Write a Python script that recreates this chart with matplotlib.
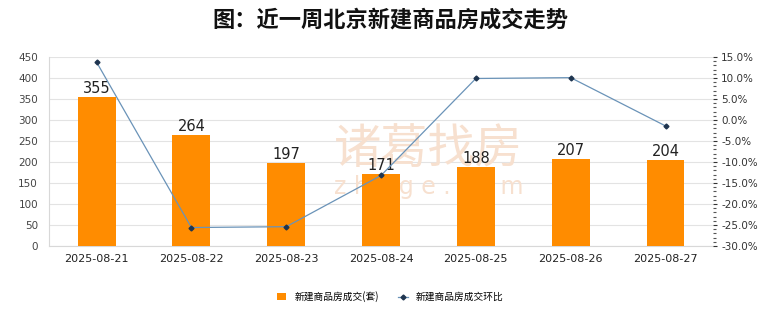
import matplotlib
matplotlib.use('Agg')
import matplotlib.pyplot as plt
from matplotlib.ticker import MultipleLocator, FuncFormatter

plt.rcParams['font.family'] = ['Noto Sans CJK SC', 'DejaVu Sans']

dates = ['2025-08-21', '2025-08-22', '2025-08-23', '2025-08-24',
         '2025-08-25', '2025-08-26', '2025-08-27']
deals = [355, 264, 197, 171, 188, 207, 204]
ratio = [13.8, -25.6, -25.4, -13.2, 9.9, 10.1, -1.4]

bar_color = '#FF8C00'
line_color = '#6A93B8'

fig = plt.figure(figsize=(7.8, 3.28), dpi=100)
ax = fig.add_axes([0.063, 0.25, 0.851, 0.576])
ax2 = ax.twinx()

x = list(range(len(dates)))
ax.bar(x, deals, width=0.4, color=bar_color, zorder=3, label='新建商品房成交(套)')
for xi, v in zip(x, deals):
    ax.text(xi, v + 3, str(v), ha='center', va='bottom', fontsize=10.5,
            family='DejaVu Sans', color='#222222', zorder=5)

ax.set_xlim(-0.5, len(dates) - 0.5)
ax.set_ylim(0, 450)
ax.yaxis.set_major_locator(MultipleLocator(50))
ax.grid(axis='y', color='#E3E3E3', linewidth=0.8, zorder=0)
ax.set_axisbelow(True)
ax.set_xticks(x)
ax.set_xticklabels(dates, family='DejaVu Sans', fontsize=8, color='#222222')
ax.tick_params(axis='y', length=0, labelsize=7.5, colors='#444444', pad=8)
ax.tick_params(axis='x', length=0, pad=6)
for lbl in ax.get_yticklabels():
    lbl.set_family('DejaVu Sans')
for s in ['top', 'right']:
    ax.spines[s].set_visible(False)
ax.spines['left'].set_color('#D8D8D8')
ax.spines['bottom'].set_color('#D8D8D8')

# watermark, behind the bars
ax.text(3.5, 229, '诸葛找房', ha='center', va='center', fontsize=34,
        color='#F7E0CF', zorder=1)
ax.text(3.5, 140, 'z h u g e . c o m', ha='center', va='center', fontsize=17,
        family='DejaVu Sans', color='#F7E0CF', zorder=1)

ax2.plot(x, ratio, color=line_color, linewidth=0.9, marker='D', markersize=2.5,
         markerfacecolor='#1F3550', markeredgecolor='#1F3550', zorder=4,
         label='新建商品房成交环比')
ax2.set_ylim(-30, 15)
ax2.yaxis.set_major_locator(MultipleLocator(5))
ax2.yaxis.set_minor_locator(MultipleLocator(1))
ax2.yaxis.set_major_formatter(FuncFormatter(lambda v, p: f'{v:.1f}%'))
ax2.tick_params(axis='y', which='major', length=3, width=0.8, labelsize=7.5,
                colors='#333333', pad=3)
ax2.tick_params(axis='y', which='minor', length=2, width=0.8, color='#555555')
for lbl in ax2.get_yticklabels():
    lbl.set_family('DejaVu Sans')
for s in ['top', 'left', 'bottom', 'right']:
    ax2.spines[s].set_visible(False)

fig.suptitle('图：近一周北京新建商品房成交走势', x=0.5, y=0.975, fontsize=16,
             fontweight='bold', color='#111111')

h1, l1 = ax.get_legend_handles_labels()
h2, l2 = ax2.get_legend_handles_labels()
fig.legend(h1 + h2, l1 + l2, loc='center', bbox_to_anchor=(0.5, 0.095), ncol=2,
           frameon=False, fontsize=7, handlelength=1.0, handleheight=0.7,
           columnspacing=2.0, handletextpad=0.8)

fig.savefig('out.png', dpi=100)
